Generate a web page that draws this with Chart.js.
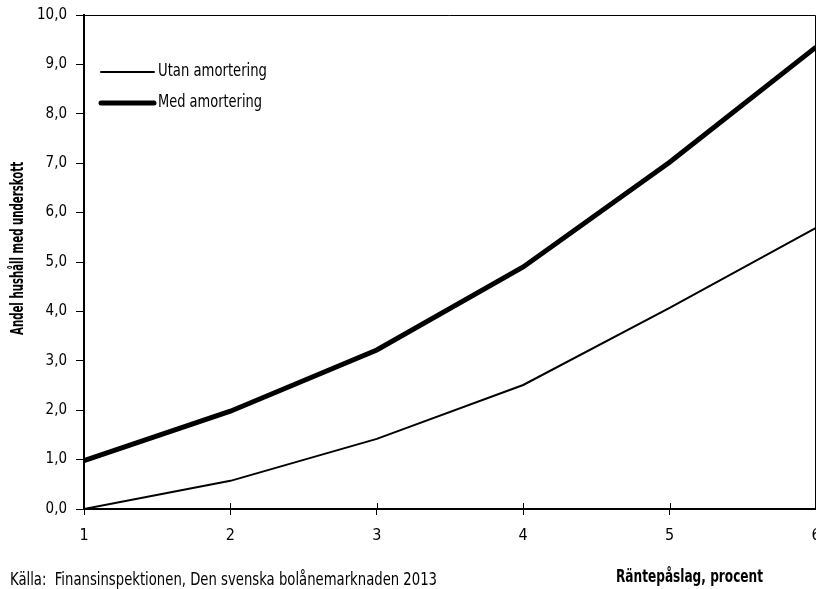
<!DOCTYPE html>
<html lang="sv">
<head>
<meta charset="UTF-8">
<title>Andel hushåll med underskott</title>
<script src="https://cdn.jsdelivr.net/npm/chart.js"></script>
<style>
  html, body { margin: 0; padding: 0; background: #fff; overflow: hidden; }
  .wrap { width: 816px; height: 589px; }
</style>
</head>
<body>
<div class="wrap"><canvas id="chart" width="816" height="589"></canvas></div>
<script>
    // räntepåslag, procent
    const xValues = [1, 2, 3, 4, 5, 6];
    const utanAmortering = [0.0, 0.57, 1.42, 2.51, 4.07, 5.69];
    const medAmortering = [0.98, 1.98, 3.22, 4.9, 7.02, 9.35];
    const seriesNames = ['Utan amortering', 'Med amortering'];
    const yTitle = 'Andel hushåll med underskott';
    const xTitle = 'Räntepåslag, procent';
    const source = 'Källa:  Finansinspektionen, Den svenska bolånemarknaden 2013';

    const FONT = "'Liberation Sans Narrow', 'DejaVu Sans Condensed', sans-serif";

    const toPoints = arr => arr.map((v, i) => ({ x: xValues[i], y: v }));

    // smal text: trycker ihop texten så den får samma bredd som originalets condensed-typsnitt
    function narrowText(ctx, text, x, y, width) {
        const sx = width / ctx.measureText(text).width;
        ctx.save();
        ctx.translate(x, y);
        ctx.scale(sx, 1);
        ctx.fillText(text, 0, 0);
        ctx.restore();
        return sx;
    }

    // ram, inre tickmarkeringar, legend och texter runt diagrammet
    const extras = {
        id: 'extras',
        afterDraw(chart) {
            const ctx = chart.ctx;
            const a = chart.chartArea;
            ctx.save();
            ctx.strokeStyle = '#000';
            ctx.lineWidth = 1;
            ctx.beginPath();
            ctx.moveTo(a.left, a.top + 0.5);
            ctx.lineTo(a.right - 0.5, a.top + 0.5);
            ctx.lineTo(a.right - 0.5, a.bottom);
            ctx.stroke();

            // tickmarkeringar som går in i diagrammet
            const xs = chart.scales.x;
            ctx.beginPath();
            xValues.forEach(v => {
                const px = Math.round(xs.getPixelForValue(v)) + 0.5;
                ctx.moveTo(px, a.bottom);
                ctx.lineTo(px, a.bottom - 6);
            });
            ctx.stroke();

            // legend
            ctx.font = `17px ${FONT}`;
            ctx.fillStyle = '#000';
            ctx.textBaseline = 'middle';
            const rows = [72, 103];
            const legendWidths = [109, 104];
            chart.data.datasets.forEach((ds, i) => {
                ctx.lineWidth = ds.borderWidth;
                ctx.lineCap = 'round';
                ctx.beginPath();
                ctx.moveTo(101, rows[i]);
                ctx.lineTo(154, rows[i]);
                ctx.stroke();
                narrowText(ctx, ds.label, 158, rows[i], legendWidths[i]);
            });

            ctx.textBaseline = 'alphabetic';
            ctx.font = `17px ${FONT}`;
            narrowText(ctx, source, 10, 585, 427);
            ctx.font = `bold 17px ${FONT}`;
            narrowText(ctx, xTitle, 616, 582, 147);

            // y-axelns titel
            ctx.translate(19, 335);
            ctx.rotate(-Math.PI / 2);
            ctx.textBaseline = 'middle';
            ctx.font = `bold 17px ${FONT}`;
            narrowText(ctx, yTitle, 0, 0, 173);
            ctx.restore();
        }
    };

    new Chart(document.getElementById('chart'), {
        type: 'line',
        data: {
            datasets: [{
                label: seriesNames[0],
                data: toPoints(utanAmortering),
                borderColor: '#000',
                borderWidth: 2,
                pointRadius: 0,
                tension: 0
            }, {
                label: seriesNames[1],
                data: toPoints(medAmortering),
                borderColor: '#000',
                borderWidth: 5,
                pointRadius: 0,
                tension: 0
            }]
        },
        options: {
            responsive: false,
            animation: false,
            layout: { padding: { top: 15, left: 0, right: 0, bottom: 0 } },
            plugins: {
                legend: { display: false },
                tooltip: { enabled: false }
            },
            scales: {
                x: {
                    type: 'linear',
                    min: 1,
                    max: 6,
                    afterFit(scale) {
                        scale.height = 80;
                        scale.paddingRight = 0;
                        scale.paddingLeft = 0;
                    },
                    ticks: {
                        stepSize: 1,
                        color: '#000',
                        padding: 11,
                        font: { family: FONT, size: 16 }
                    },
                    grid: { drawOnChartArea: false, tickLength: 6, color: '#000' },
                    border: { color: '#000', width: 2 }
                },
                y: {
                    min: 0,
                    max: 10,
                    afterFit(scale) {
                        scale.width = 84;
                        scale.paddingTop = 0;
                        scale.paddingBottom = 0;
                    },
                    ticks: {
                        stepSize: 1,
                        color: '#000',
                        padding: 9,
                        font: { family: FONT, size: 15 },
                        callback: v => v.toFixed(1).replace('.', ',')
                    },
                    grid: { drawOnChartArea: false, tickLength: 8, color: '#000' },
                    border: { color: '#000', width: 2 }
                }
            }
        },
        plugins: [extras]
    });
</script>
</body>
</html>
